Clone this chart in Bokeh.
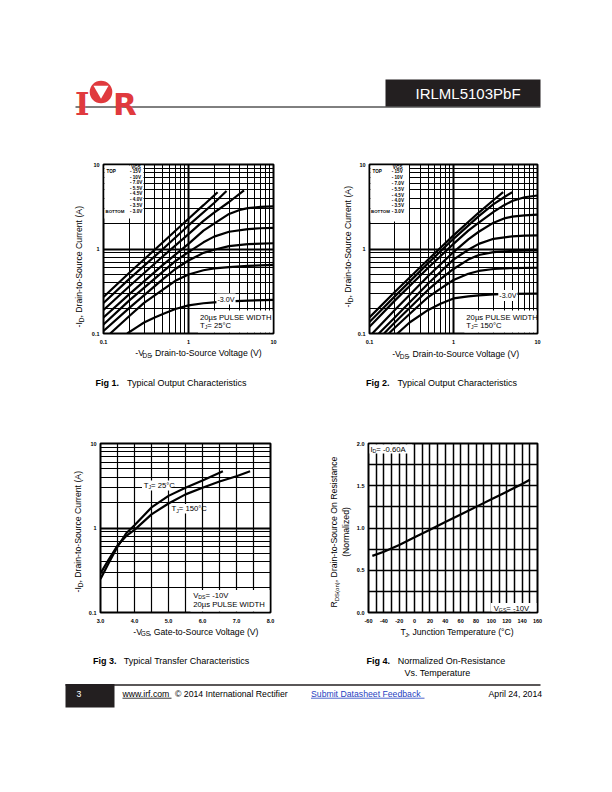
import math
from bokeh.plotting import figure
from bokeh.layouts import column, row
from bokeh.models import Range1d, FixedTicker, Label, CustomJSTickFormatter, PrintfTickFormatter, Spacer
from bokeh.embed import file_html
from bokeh.resources import INLINE

FONT = "Liberation Sans"
RED = "#e03a3e"

# ---------------------------------------------------------------- data
VGS_STEPS = ["- 15V", "- 10V", "- 7.0V", "- 5.5V", "- 4.5V", "- 4.0V", "- 3.5V", "- 3.0V"]

# Fig 1 : Tj = 25 C, one list per VGS step (top -15V ... bottom -3.0V)
F1_VDS = [
    [0.1, 0.2, 0.5, 1.0, 1.5, 2.2],
    [0.1, 0.2, 0.5, 1.0, 2.0, 2.8],
    [0.1, 0.2, 0.5, 1.0, 1.5, 2.0, 3.0, 4.5],
    [0.1, 0.2, 0.5, 1.0, 1.5, 2.0, 3.0, 4.0, 5.0, 7.0, 10.0],
    [0.1, 0.2, 0.5, 0.7, 1.0, 1.5, 2.0, 3.0, 5.0, 7.0, 10.0],
    [0.1, 0.2, 0.5, 0.7, 1.0, 1.5, 2.0, 3.0, 5.0, 10.0],
    [0.12, 0.2, 0.3, 0.5, 0.7, 1.0, 1.5, 2.0, 3.0, 5.0, 10.0],
    [0.19, 0.25, 0.3, 0.4, 0.5, 0.7, 1.0, 1.5, 2.0, 3.0, 5.0, 10.0],
]
F1_ID = [
    [0.27, 0.52, 1.2, 2.28, 3.3, 4.7],
    [0.23, 0.44, 1.0, 1.9, 3.5, 4.85],
    [0.19, 0.36, 0.82, 1.5, 2.15, 2.7, 3.6, 4.95],
    [0.155, 0.29, 0.65, 1.15, 1.65, 2.0, 2.6, 2.9, 3.05, 3.15, 3.2],
    [0.128, 0.245, 0.54, 0.72, 0.92, 1.2, 1.4, 1.6, 1.72, 1.76, 1.78],
    [0.107, 0.2, 0.44, 0.58, 0.73, 0.9, 0.98, 1.08, 1.14, 1.17],
    [0.1, 0.16, 0.23, 0.33, 0.42, 0.5, 0.56, 0.59, 0.61, 0.63, 0.65],
    [0.1, 0.12, 0.135, 0.155, 0.17, 0.195, 0.215, 0.228, 0.234, 0.24, 0.245, 0.25],
]

# Fig 2 : Tj = 150 C
F2_VDS = [
    [0.1, 0.2, 0.5, 1.0, 2.0, 3.0, 3.9],
    [0.1, 0.2, 0.5, 1.0, 2.0, 3.0, 4.0, 5.0],
    [0.1, 0.2, 0.5, 1.0, 1.5, 2.0, 3.0, 4.0, 5.0, 7.0, 10.0],
    [0.108, 0.2, 0.5, 1.0, 1.5, 2.0, 3.0, 4.0, 5.0, 7.0, 10.0],
    [0.129, 0.2, 0.5, 1.0, 1.5, 2.0, 3.0, 5.0, 7.0, 10.0],
    [0.149, 0.2, 0.3, 0.5, 0.7, 1.0, 1.5, 2.0, 3.0, 5.0, 10.0],
    [0.17, 0.2, 0.3, 0.5, 0.7, 1.0, 1.5, 2.0, 3.0, 5.0, 10.0],
    [0.215, 0.3, 0.5, 0.7, 1.0, 1.5, 2.0, 3.0, 5.0, 10.0],
]
F2_ID = [
    [0.155, 0.31, 0.75, 1.45, 2.7, 3.8, 4.7],
    [0.137, 0.275, 0.68, 1.32, 2.45, 3.4, 4.1, 4.7],
    [0.12, 0.245, 0.6, 1.15, 1.65, 2.05, 2.75, 3.3, 3.7, 4.1, 4.3],
    [0.1, 0.19, 0.48, 0.92, 1.3, 1.6, 2.05, 2.3, 2.42, 2.5, 2.55],
    [0.1, 0.155, 0.39, 0.75, 0.98, 1.15, 1.32, 1.41, 1.44, 1.45],
    [0.1, 0.135, 0.2, 0.33, 0.44, 0.58, 0.75, 0.85, 0.92, 0.95, 0.96],
    [0.1, 0.117, 0.17, 0.27, 0.34, 0.43, 0.51, 0.55, 0.58, 0.595, 0.6],
    [0.1, 0.135, 0.19, 0.225, 0.26, 0.275, 0.283, 0.29, 0.294, 0.296],
]

# Fig 3 : transfer characteristics
F3_VGS_25 = [3.0, 3.25, 3.5, 3.75, 4.0, 4.5, 5.0, 5.5, 6.0, 6.6]
F3_ID_25 = [0.25, 0.39, 0.6, 0.86, 1.08, 1.75, 2.4, 3.0, 3.65, 4.7]
F3_VGS_150 = [3.0, 3.25, 3.5, 3.75, 4.0, 4.5, 5.0, 5.5, 6.0, 6.5, 7.0, 7.4]
F3_ID_150 = [0.29, 0.43, 0.62, 0.8, 0.95, 1.45, 1.95, 2.5, 3.0, 3.55, 4.1, 4.7]

# Fig 4 : normalized on-resistance vs temperature
F4_TJ = [-55, -40, -20, 0, 20, 40, 60, 80, 100, 120, 140, 150]
F4_RDS = [0.67, 0.72, 0.80, 0.89, 0.98, 1.07, 1.16, 1.25, 1.34, 1.43, 1.52, 1.57]

# ticks
LOG_MAJOR = [0.1, 1, 10]
LOG_MINOR = [0.2, 0.3, 0.4, 0.5, 0.6, 0.7, 0.8, 0.9, 2, 3, 4, 5, 6, 7, 8, 9]
F3_X_MAJOR = [3, 4, 5, 6, 7, 8]
F3_X_MINOR = [3.5, 4.5, 5.5, 6.5, 7.5]
F4_X_MAJOR = [-60, -40, -20, 0, 20, 40, 60, 80, 100, 120, 140, 160]
F4_X_MINOR = [-50, -30, -10, 10, 30, 50, 70, 90, 110, 130, 150]
F4_Y_MAJOR = [0.0, 0.5, 1.0, 1.5, 2.0]
F4_Y_MINOR = [0.25, 0.75, 1.25, 1.75]

# ---------------------------------------------------------------- helpers
CW = {" ": 278, ",": 278, "-": 333, ".": 278, "(": 333, ")": 333, "=": 584,
      "A": 667, "C": 722, "D": 722, "G": 778, "I": 278, "J": 500, "R": 722,
      "S": 667, "T": 611, "V": 667, "o": 556, "n": 556}


def tw(s, size):
    return sum(CW.get(c, 556) for c in s) / 1000.0 * size


def to_data(fr, px, py):
    x0, y0, w, h, xr, yr, xlog, ylog = fr
    tx = (px - x0) / w
    ty = (y0 + h - py) / h
    if xlog:
        x = 10 ** (math.log10(xr[0]) + tx * (math.log10(xr[1]) - math.log10(xr[0])))
    else:
        x = xr[0] + tx * (xr[1] - xr[0])
    if ylog:
        y = 10 ** (math.log10(yr[0]) + ty * (math.log10(yr[1]) - math.log10(yr[0])))
    else:
        y = yr[0] + ty * (yr[1] - yr[0])
    return x, y


def put(p, fr, px, py, text, size=7.7, bold=False, align="left", baseline="middle",
        angle=0.0, color="black", bg=None):
    x, y = to_data(fr, px, py)
    lab = Label(x=x, y=y, text=text, text_font=FONT, text_font_size=f"{size}px",
                text_font_style="bold" if bold else "normal", text_color=color,
                text_align=align, text_baseline=baseline, angle=angle)
    if bg is not None:
        lab.background_fill_color = bg
        lab.padding = 1
    p.add_layout(lab)


def put_rich(p, fr, px, py, pieces, vertical=False, sub_shift=2.6):
    pos = 0.0
    for text, size, sub in pieces:
        if vertical:
            put(p, fr, px + (sub_shift if sub else 0), py - pos, text, size, angle=math.pi / 2)
        else:
            put(p, fr, px + pos, py + (sub_shift if sub else 0), text, size)
        pos += tw(text, size)


def white_box(p, fr, px0, py0, px1, py1):
    x0, y0 = to_data(fr, px0, py1)
    x1, y1 = to_data(fr, px1, py0)
    p.quad(left=[x0], right=[x1], bottom=[y0], top=[y1], fill_color="white", line_color=None)


def chart(w, h, bl, br, bt, bb, xr, yr, xlog, ylog, xt, xmin, yt, ymin, xfmt, yfmt,
          xmaj_w, xmin_w, ymaj_w, ymin_w):
    p = figure(width=w, height=h, x_range=Range1d(*xr), y_range=Range1d(*yr),
               x_axis_type="log" if xlog else "linear", y_axis_type="log" if ylog else "linear",
               toolbar_location=None, output_backend="svg",
               min_border_left=bl, min_border_right=br, min_border_top=bt, min_border_bottom=bb)
    p.background_fill_color = "white"
    p.border_fill_color = "white"
    p.outline_line_color = "black"
    p.outline_line_width = 2
    tx = FixedTicker(ticks=xt, minor_ticks=xmin)
    ty = FixedTicker(ticks=yt, minor_ticks=ymin)
    p.xaxis.ticker = tx
    p.yaxis.ticker = ty
    p.xgrid.ticker = tx
    p.ygrid.ticker = ty
    p.xaxis.formatter = xfmt
    p.yaxis.formatter = yfmt
    for ax in (p.xaxis, p.yaxis):
        ax.axis_line_color = None
        ax.major_tick_line_color = None
        ax.minor_tick_line_color = None
        ax.major_tick_out = 0
        ax.major_tick_in = 0
        ax.minor_tick_out = 0
        ax.minor_tick_in = 0
        ax.major_label_text_font = FONT
        ax.major_label_text_font_size = "5.5px"
        ax.major_label_text_font_style = "bold"
        ax.major_label_text_color = "black"
    p.yaxis.major_label_standoff = 4
    p.xaxis.major_label_standoff = 6
    p.xgrid.grid_line_color = "black"
    p.xgrid.grid_line_width = xmaj_w
    p.xgrid.minor_grid_line_color = "black"
    p.xgrid.minor_grid_line_width = xmin_w
    p.ygrid.grid_line_color = "black"
    p.ygrid.grid_line_width = ymaj_w
    p.ygrid.minor_grid_line_color = "black"
    p.ygrid.minor_grid_line_width = ymin_w
    return p


class Deco:
    """A blank figure whose data units are page pixels (y downwards)."""

    def __init__(self, w, h, ox, oy):
        self.ox, self.oy = ox, oy
        p = figure(width=w, height=h, x_range=Range1d(0, w), y_range=Range1d(h, 0),
                   x_axis_location=None, y_axis_location=None, toolbar_location=None,
                   output_backend="svg", min_border=0)
        p.outline_line_color = None
        p.background_fill_color = "white"
        p.border_fill_color = "white"
        p.xgrid.visible = False
        p.ygrid.visible = False
        self.p = p

    def text(self, px, py, text, size, bold=False, color="black", align="left",
             baseline="middle", font=FONT, angle=0.0):
        self.p.add_layout(Label(x=px - self.ox, y=py - self.oy, text=text, text_font=font,
                                text_font_size=f"{size}px",
                                text_font_style="bold" if bold else "normal",
                                text_color=color, text_align=align, text_baseline=baseline,
                                angle=angle))

    def rich(self, px, py, pieces, vertical=False, sub_shift=2.6):
        pos = 0.0
        for text, size, sub in pieces:
            if vertical:
                self.text(px + (sub_shift if sub else 0), py - pos, text, size, angle=math.pi / 2)
            else:
                self.text(px + pos, py + (sub_shift if sub else 0), text, size)
            pos += tw(text, size)

    def hline(self, x0, x1, y, color="black", width=1.0):
        self.p.line([x0 - self.ox, x1 - self.ox], [y - self.oy, y - self.oy],
                    line_color=color, line_width=width)

    def box(self, x0, y0, x1, y1, color):
        self.p.quad(left=[x0 - self.ox], right=[x1 - self.ox], top=[y0 - self.oy],
                    bottom=[y1 - self.oy], fill_color=color, line_color=None)


LOGFMT = CustomJSTickFormatter(code="return tick < 0.99 ? tick.toFixed(1) : tick.toFixed(0);")

# ---------------------------------------------------------------- Fig 1 & 2 (row 1: y 140..370)
BT1, FH, BB = 24, 169, 14


def output_chart(w, bl, br, fx0, vds, ids, tj, lab30, legend_x, bottom_x, legend_rows, box_x,
                 box_bottom, pulse_x):
    fy0 = 140 + BT1
    fw = w - bl - br
    fr = (fx0, fy0, fw, FH, (0.1, 10), (0.1, 10), True, True)
    p = chart(w, BT1 + FH + BB, bl, br, BT1, BB, (0.1, 10), (0.1, 10), True, True,
              LOG_MAJOR, LOG_MINOR, LOG_MAJOR, LOG_MINOR, LOGFMT, LOGFMT, 2, 1, 2, 1)
    white_box(p, fr, fx0 + 1, fy0 + 1, box_x, box_bottom)
    white_box(p, fr, pulse_x - 2, fy0 + FH - 23, fx0 + fw - 1, fy0 + FH - 1)
    for xs, ys in zip(vds, ids):
        p.line(xs, ys, line_color="black", line_width=2.2)
    put(p, fr, legend_x + 6, fy0 + 2.5, "VGS", 4.6, bold=True, align="center")
    put(p, fr, fx0 + 3, legend_rows[0], "TOP", 4.6, bold=True)
    put(p, fr, bottom_x, legend_rows[-1], "BOTTOM", 4.4, bold=True)
    for txt, yy in zip(VGS_STEPS, legend_rows):
        put(p, fr, legend_x, yy, txt, 4.6, bold=True)
    put(p, fr, lab30[0], lab30[1], "-3.0V", 7.2, align="center", bg="white")
    put(p, fr, pulse_x, fy0 + FH - 16.5, "20\u00b5s PULSE WIDTH", 7.7)
    put_rich(p, fr, pulse_x, fy0 + FH - 8.5,
             [("T", 7.7, False), ("J", 5.2, True), (" = " + tj, 7.7, False)], sub_shift=1.8)
    return p


F1 = output_chart(203, 16, 17, 103, F1_VDS, F1_ID, "25\u00b0C", (225.5, 298.5), 129.5, 105,
                  [171, 176.5, 182, 187.5, 193, 198.5, 204.5, 210.5], 143, 218, 199.5)
F2 = output_chart(193, 13, 10, 367, F2_VDS, F2_ID, "150\u00b0C", (507, 295), 389.5, 368.5,
                  [171, 176.5, 183, 188.5, 194.5, 199.5, 205, 211], 407, 221, 465)

XH1 = 230 - (BT1 + FH + BB)
Y1 = Deco(87, 230, 0, 140)
Y1.rich(78.3, 327, [("-I", 8.7, False), ("D", 6.5, True),
                    (", Drain-to-Source Current (A)", 8.7, False)], vertical=True, sub_shift=2.3)
X1 = Deco(203, XH1, 87, 370 - XH1)
X1.rich(125, 352.5, [("-V", 8.7, False), ("DS", 6.5, True),
                     (", Drain-to-Source Voltage (V)", 8.7, False)])
Y2 = Deco(64, 230, 290, 140)
Y2.rich(347.5, 307, [("-I", 8.7, False), ("D", 6.5, True),
                     (", Drain-to-Source Current (A)", 8.7, False)], vertical=True, sub_shift=2.2)
X2 = Deco(193, XH1, 354, 370 - XH1)
X2.rich(380, 353, [("-V", 8.7, False), ("DS", 6.5, True),
                   (", Drain-to-Source Voltage (V)", 8.7, False)])
row1 = row(Y1.p, column(F1, X1.p), Y2.p, column(F2, X2.p), Spacer(width=65, height=230))

# ---------------------------------------------------------------- Fig 3 (row 2: y 420..650)
BT2 = 23
XH2 = 230 - (BT2 + FH + BB)
fr3 = (100, 443, 170, 169, (3, 8), (0.1, 10), False, True)
F3 = chart(197, BT2 + FH + BB, 15, 12, BT2, BB, (3, 8), (0.1, 10), False, True,
           F3_X_MAJOR, F3_X_MINOR, LOG_MAJOR, LOG_MINOR,
           PrintfTickFormatter(format="%.1f"), LOGFMT, 1.2, 1.2, 2, 1)
white_box(F3, fr3, 141.5, 480, 171, 490)
white_box(F3, fr3, 169.5, 503.5, 198, 513)
white_box(F3, fr3, 190, 589.5, 269, 611)
F3.line(F3_VGS_25, F3_ID_25, line_color="black", line_width=2.2)
F3.line(F3_VGS_150, F3_ID_150, line_color="black", line_width=2.2)
put_rich(F3, fr3, 143.3, 485, [("T", 7.7, False), ("J", 5.2, True), ("= 25\u00b0C", 7.7, False)], sub_shift=1.8)
put_rich(F3, fr3, 171, 508.3, [("T", 7.7, False), ("J", 5.2, True), ("= 150\u00b0C", 7.7, False)], sub_shift=1.8)
put_rich(F3, fr3, 192.7, 595, [("V", 7.7, False), ("DS", 5.2, True), (" = -10V", 7.7, False)], sub_shift=1.5)
put(F3, fr3, 192.7, 603.5, "20\u00b5s PULSE WIDTH", 7.7)

Y3 = Deco(85, 230, 0, 420)
Y3.rich(77.3, 592, [("-I", 8.7, False), ("D", 6.5, True),
                    (" , Drain-to-Source Current (A)", 8.7, False)], vertical=True, sub_shift=2.3)
X3 = Deco(197, XH2, 85, 650 - XH2)
X3.rich(123, 631.7, [("-V", 8.7, False), ("GS", 6.5, True),
                     (" , Gate-to-Source Voltage (V)", 8.7, False)], sub_shift=1.5)

# ---------------------------------------------------------------- Fig 4
fr4 = (367, 443, 170, 169, (-60, 160), (0, 2.0), False, False)
F4 = chart(196, BT2 + FH + BB, 14, 12, BT2, BB, (-60, 160), (0, 2.0), False, False,
           F4_X_MAJOR, F4_X_MINOR, F4_Y_MAJOR, F4_Y_MINOR,
           PrintfTickFormatter(format="%d"), PrintfTickFormatter(format="%.1f"), 1.5, 1.5, 1.5, 1.5)
white_box(F4, fr4, 368, 444, 411, 453)
white_box(F4, fr4, 490, 602.5, 536, 611)
F4.line(F4_TJ, F4_RDS, line_color="black", line_width=2.2)
put_rich(F4, fr4, 369, 448.5, [("I", 7.7, False), ("D", 5.2, True), (" = -0.60A", 7.7, False)], sub_shift=1.8)
put_rich(F4, fr4, 493, 607.5, [("V", 7.7, False), ("GS", 5.2, True), (" = -10V", 7.7, False)], sub_shift=1.8)

Y4 = Deco(71, 230, 282, 420)
Y4.rich(333.5, 607, [("R", 8.7, False), ("DS(on)", 6.0, True),
                     (" ,   Drain-to-Source On Resistance", 8.7, False)], vertical=True)
Y4.text(345.5, 531.5, "(Normalized)", 8.7, align="center", angle=math.pi / 2)
X4 = Deco(196, XH2, 353, 650 - XH2)
X4.rich(390, 631.7, [("T", 8.7, False), ("J", 6.0, True),
                     (" , Junction Temperature (\u00b0C)", 8.7, False)])
row2 = row(Y3.p, column(F3, X3.p), Y4.p, column(F4, X4.p), Spacer(width=63, height=230))

# ---------------------------------------------------------------- header / captions / footer
HDR = Deco(612, 140, 0, 0)
HDR.text(74.5, 103.5, "I", 31, bold=True, color=RED, baseline="alphabetic", font="DejaVu Serif")
HDR.p.circle(x=[100.5], y=[91.5], radius=11.3, fill_color=RED, line_color=None)
HDR.p.scatter(x=[100.5], y=[89.5], marker="inverted_triangle", size=15, fill_color="white", line_color=None)
HDR.text(112.5, 103.5, "R", 31, bold=True, color=RED, baseline="alphabetic", font="DejaVu Sans")
HDR.box(385, 79, 540, 106, "#231f20")
HDR.text(415, 93, "IRLML5103PbF", 15, color="white")
HDR.hline(75, 540, 106.5)

CAP = Deco(612, 50, 0, 370)
CAP.text(95, 382, "Fig 1.", 9, bold=True)
CAP.text(126.5, 382, "Typical Output Characteristics", 9)
CAP.text(365.5, 382.5, "Fig 2.", 9, bold=True)
CAP.text(397, 382.5, "Typical Output Characteristics", 9)

FTR = Deco(612, 142, 0, 650)
FTR.text(92.5, 660.7, "Fig 3.", 9, bold=True)
FTR.text(123.3, 660.7, "Typical Transfer Characteristics", 9)
FTR.text(366, 660.7, "Fig 4.", 9, bold=True)
FTR.text(397.3, 660.7, "Normalized On-Resistance", 9)
FTR.text(404, 672.7, "Vs. Temperature", 9)
FTR.box(65, 683.5, 114, 707, "#231f20")
FTR.hline(65, 540, 684.5, color="#231f20", width=1.5)
FTR.text(76, 693.5, "3", 8.7, color="white")
FTR.text(122, 693.5, "www.irf.com", 8.7)
FTR.hline(122, 171, 697.7, width=0.8)
FTR.text(174.5, 693.5, "\u00a9 2014 International Rectifier", 8.7)
FTR.text(310.5, 693.5, "Submit  Datasheet Feedback", 8.7, color="#1f3fbf")
FTR.hline(310.5, 424, 697.7, color="#1f3fbf", width=0.8)
FTR.text(488, 693.5, "April 24, 2014", 8.7)

layout = column(HDR.p, row1, CAP.p, row2, FTR.p)

open("out.html", "w").write(file_html(layout, INLINE))
